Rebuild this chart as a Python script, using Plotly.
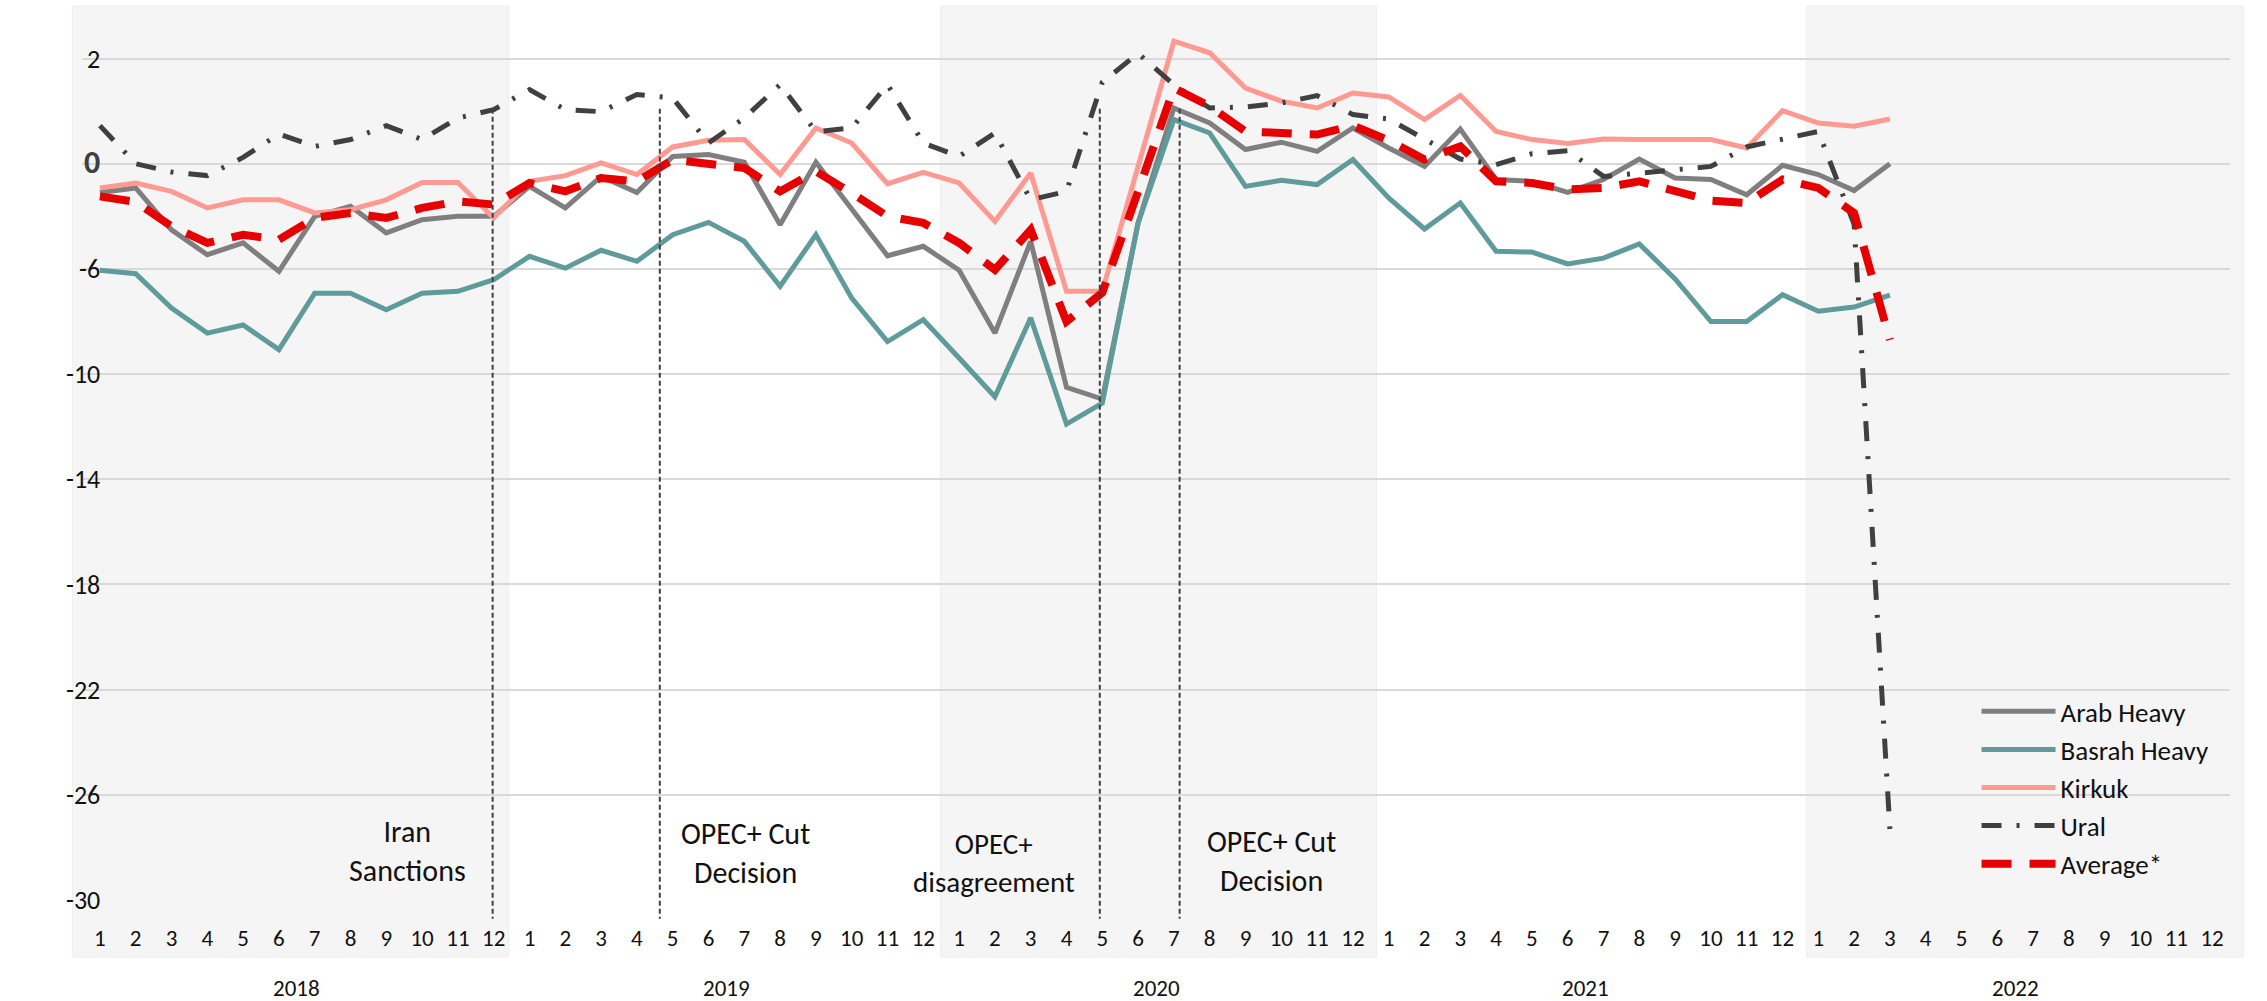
import plotly.graph_objects as go

# ---------------- data ----------------
years = ["2018", "2019", "2020", "2021", "2022"]
month_labels = [str(m) for m in range(1, 13)] * 5

arab_heavy = [-3.09, -2.92, -4.51, -5.46, -5.01, -6.09, -4.00, -3.62, -4.63, -4.13, -4.00, -4.00,
              -2.86, -3.68, -2.48, -3.09, -1.72, -1.65, -1.94, -4.32, -1.94, -3.75, -5.50, -5.14,
              -6.05, -8.44, -4.95, -10.50, -10.95, -4.25, 0.12, -0.45, -1.46, -1.18, -1.53, -0.64,
              -1.40, -2.10, -0.68, -2.60, -2.67, -3.09, -2.60, -1.82, -2.54, -2.60, -3.18, -2.06,
              -2.41, -3.02, -2.00]
basrah_heavy = [-6.05, -6.18, -7.49, -8.44, -8.13, -9.07, -6.92, -6.92, -7.55, -6.92, -6.85, -6.41,
                -5.52, -5.97, -5.29, -5.71, -4.70, -4.23, -4.95, -6.66, -4.70, -7.11, -8.76, -7.93,
                -9.39, -10.86, -7.86, -11.90, -11.10, -4.25, -0.32, -0.83, -2.86, -2.63, -2.79, -1.84,
                -3.30, -4.48, -3.49, -5.33, -5.36, -5.81, -5.59, -5.05, -6.38, -8.00, -8.00, -6.98,
                -7.61, -7.45, -7.00]
kirkuk = [-2.92, -2.73, -3.05, -3.68, -3.37, -3.37, -3.87, -3.75, -3.37, -2.71, -2.71, -4.06,
          -2.67, -2.45, -1.97, -2.41, -1.36, -1.11, -1.08, -2.41, -0.64, -1.21, -2.76, -2.33,
          -2.73, -4.19, -2.35, -6.85, -6.85, -2.10, 2.66, 2.22, 0.88, 0.38, 0.12, 0.69,
          0.54, -0.32, 0.60, -0.77, -1.08, -1.23, -1.06, -1.08, -1.08, -1.08, -1.40, 0.02,
          -0.45, -0.57, -0.30]
ural = [-0.55, -2.00, -2.31, -2.45, -1.76, -0.87, -1.34, -1.08, -0.55, -1.08, -0.26, 0.06,
        0.82, 0.06, -0.02, 0.63, 0.50, -1.21, -0.26, 1.01, -0.78, -0.64, 1.01, -1.21,
        -1.72, -0.83, -3.37, -3.05, 1.10, 2.20, 1.00, 0.12, 0.16, 0.31, 0.59, -0.13,
        -0.30, -1.06, -1.82, -2.03, -1.62, -1.50, -2.48, -2.36, -2.22, -2.10, -1.36, -1.08,
        -0.77, -4.30, -27.30]
average = [-3.24, -3.45, -4.38, -5.01, -4.70, -4.89, -4.06, -3.87, -4.06, -3.68, -3.43, -3.55,
           -2.73, -3.05, -2.54, -2.67, -1.84, -2.03, -2.16, -3.05, -2.29, -3.11, -4.00, -4.25,
           -5.01, -6.03, -4.51, -8.00, -6.90, -3.05, 0.88, 0.19, -0.77, -0.83, -0.89, -0.55,
           -1.11, -1.84, -1.34, -2.67, -2.73, -2.98, -2.92, -2.67, -3.05, -3.40, -3.49, -2.60,
           -2.92, -3.87, -8.70]

y_tick_vals = [2, -2, -6, -10, -14, -18, -22, -26, -30]
y_tick_text = ["2", "0", "-6", "-10", "-14", "-18", "-22", "-26", "-30"]

events = ["Iran<br>Sanctions", "OPEC+ Cut<br>Decision", "OPEC+<br>disagreement", "OPEC+ Cut<br>Decision"]
event_text_x = [8.59, 18.04, 24.97, 32.74]
event_text_y = [0.055, 0.053, 0.041, 0.044]
event_font = [30, 30, 29, 30]
event_line_x = [10.97, 15.64, 27.93, 30.16]

band_x0 = [-0.77, 23.48, 47.67]
band_x1 = [11.42, 35.66, 59.88]

# ---------------- figure ----------------
FONT = "Carlito, Calibri, Lato, sans-serif"
N = len(month_labels)
x = list(range(N))


def pad(vals):
    return vals + [None] * (N - len(vals))


def to_paper(v):
    return (v + 0.5) / N


fig = go.Figure()
series = [
    ("Arab Heavy", arab_heavy, dict(color="#7F7F7F", width=5)),
    ("Basrah Heavy", basrah_heavy, dict(color="#5F9B9B", width=5)),
    ("Kirkuk", kirkuk, dict(color="#FF9A92", width=5)),
    ("Ural", ural, dict(color="#404040", width=5, dash="20px,15px,3px,15px")),
    ("Average*", average, dict(color="#E60000", width=8, dash="30px,18px")),
]
for name, vals, line in series:
    fig.add_trace(go.Scatter(x=x, y=pad(vals), mode="lines", name=name, line=line,
                             connectgaps=False))

shapes = []
for a, b in zip(band_x0, band_x1):
    shapes.append(dict(type="rect", xref="paper", yref="paper", x0=to_paper(a), x1=to_paper(b),
                       y0=-0.064, y1=1.0, fillcolor="#F5F5F5",
                       line=dict(color="#EFEFEF", width=1), layer="below"))
for lx in event_line_x:
    shapes.append(dict(type="line", xref="x", yref="paper", x0=lx, x1=lx, y0=0.885, y1=-0.021,
                       line=dict(color="#404040", width=2, dash="5px,3px"), layer="above"))

annotations = []
for t, ax, ay, fs in zip(events, event_text_x, event_text_y, event_font):
    annotations.append(dict(text=t, x=ax, y=ay, xref="x", yref="paper", showarrow=False,
                            font=dict(family=FONT, size=fs, color="#111111"),
                            align="center", xanchor="center", yanchor="middle"))
for k, yr in enumerate(years):
    annotations.append(dict(text=yr, x=k * 12 + 5.5, y=-0.098, xref="x", yref="paper",
                            showarrow=False, font=dict(family=FONT, size=23, color="#111111"),
                            xanchor="center", yanchor="middle"))

fig.update_layout(
    width=2267, height=1001,
    margin=dict(l=82, r=37, t=6, b=101),
    paper_bgcolor="white", plot_bgcolor="rgba(0,0,0,0)",
    font=dict(family=FONT, color="#111111"),
    shapes=shapes, annotations=annotations,
    showlegend=True,
    legend=dict(x=0.882, y=0.238, xanchor="left", yanchor="top", bgcolor="rgba(0,0,0,0)",
                font=dict(family=FONT, size=27, color="#111111"), itemwidth=74,
                tracegroupgap=0),
    xaxis=dict(range=[-0.5, N - 0.5], tickmode="array", tickvals=x, ticktext=month_labels,
               showgrid=False, zeroline=False, showline=False, ticks="",
               tickfont=dict(family=FONT, size=23, color="#111111"), ticklabelstandoff=22),
    yaxis=dict(range=[-30, 4], tickmode="array", tickvals=y_tick_vals,
               ticktext=["<b><span style='font-size:32px;color:#404040'>0</span></b>" if t == "0" else t
                         for t in y_tick_text],
               anchor="free", position=0.0085,
               showgrid=True, gridcolor="#D9D9D9", gridwidth=2, zeroline=False, showline=False,
               ticks="", tickfont=dict(family=FONT, size=26, color="#111111"),
               ticklabelstandoff=0),
)

fig.write_html("out.html", config={"displayModeBar": False},
               post_script="document.body.style.margin='0px';")
